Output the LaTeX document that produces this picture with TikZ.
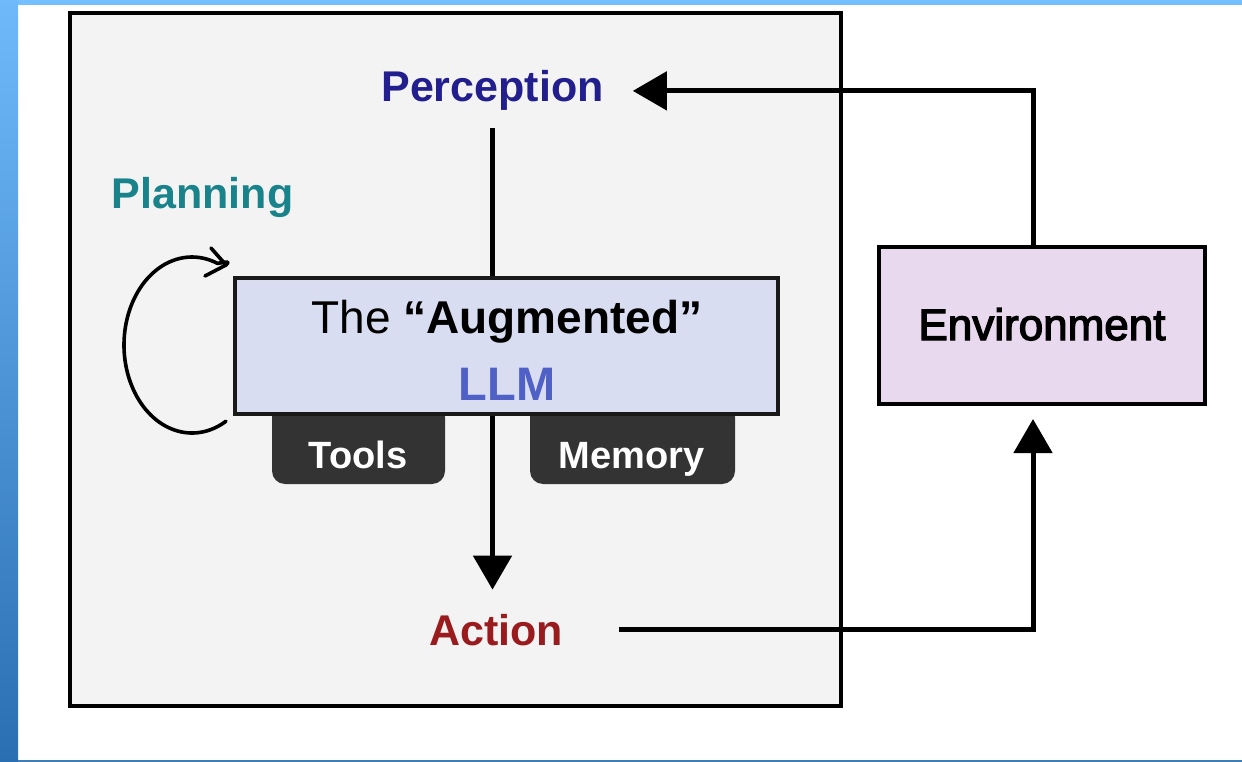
\documentclass[tikz,border=0pt]{standalone}
\usepackage{fontspec}
\setmainfont{Liberation Sans}
\newfontfamily\medfont[FakeBold=3]{Liberation Sans}
\usetikzlibrary{arrows.meta}
\definecolor{percC}{HTML}{221E8E}
\definecolor{planC}{HTML}{18838A}
\definecolor{llmC}{HTML}{4F60C6}
\definecolor{actC}{HTML}{991B1E}
\definecolor{llmFill}{HTML}{D9DDF1}
\definecolor{envFill}{HTML}{E8D9EE}
\definecolor{outerFill}{HTML}{F3F3F3}
\definecolor{toolC}{HTML}{333333}
\definecolor{stripTop}{HTML}{6FB9FB}
\definecolor{stripBot}{HTML}{2A6FB1}
\definecolor{barC}{HTML}{74BFFF}
\tikzset{
  lbl/.style={anchor=base, inner sep=0pt, font=\bfseries\fontsize{43}{50}\selectfont},
  boxstyle/.style={draw=black, line width=4pt, inner sep=0pt},
  tabstyle/.style={fill=toolC, rounded corners=13pt, inner sep=0pt},
  tabtext/.style={anchor=base, inner sep=0pt, text=white, font=\bfseries\fontsize{38}{44}\selectfont},
  conn/.style={line width=5pt, draw=black},
  arrowline/.style={conn, -{Triangle[length=34pt,width=38pt]}},
  loopline/.style={line width=3.6pt, draw=black, line cap=round, line join=round},
}
\begin{document}
\begin{tikzpicture}[x=1pt,y=-1pt]
\useasboundingbox (0,0) rectangle (1242,762);
\fill[white] (0,0) rectangle (1242,762);
\fill[barC] (0,0) rectangle (1242,5);
\shade[top color=stripTop, bottom color=stripBot] (0,0) rectangle (18,762);
\fill[stripBot!90!white] (18,759.5) rectangle (1242,762);

% outer agent box
\node[boxstyle, fill=outerFill, minimum width=771pt, minimum height=693pt] (outer) at (455.5,359.5) {};

% tools and memory tabs (behind LLM box)
\node[tabstyle, minimum width=173pt, minimum height=80pt] (tools) at (358.5,444) {};
\node[tabstyle, minimum width=205pt, minimum height=80pt] (memory) at (632.5,444) {};
\node[tabtext] (toolst) at (358,468) {Tools};
\node[tabtext] (memoryt) at (631.5,468) {Memory};

% LLM box
\node[boxstyle, draw=black!90, fill=llmFill, minimum width=543pt, minimum height=136pt] (llm) at (506.5,346) {};
\node[anchor=base, inner sep=0pt, font=\fontsize{46}{52}\selectfont] (aug) at (507,333) {The \textbf{“Augmented”}};
\node[lbl, text=llmC, font=\bfseries\fontsize{47}{52}\selectfont] (llmt) at (507,400) {LLM};

% environment
\node[boxstyle, fill=envFill, minimum width=326pt, minimum height=157pt] (env) at (1042,325.5) {};
\node[anchor=base, inner sep=0pt, font=\medfont\fontsize{44}{50}\selectfont] (envt) at (1042,340) {Environment};

% labels
\node[lbl, text=percC] (perc) at (492.5,102) {Perception};
\node[lbl, text=planC] (plan) at (202.5,208) {Planning};
\node[lbl, text=actC] (act) at (496,645) {Action};

% connectors
\coordinate (perctop) at ([yshift=-17pt]perc.south);
\draw[conn] (perctop) -- (perctop |- llm.north);
\coordinate (acttip) at ([yshift=24pt]act.north);
\draw[arrowline] (llm.south -| perctop) -- (acttip -| perctop);
\draw[arrowline] ([xshift=56pt]act.east) -| ([xshift=-9pt,yshift=-13pt]env.south);
\draw[arrowline] ([xshift=-9pt]env.north) |- ([xshift=29pt]perc.east);

% planning loop
\coordinate (loopc) at (192,345);
\coordinate (looptip) at (226,265);
\draw[loopline] ([shift={(60:68 and 88)}]loopc) arc[start angle=60, end angle=292, x radius=68, y radius=88]
  .. controls +(12,-2) .. (looptip);
\draw[loopline] (211,248) -- (looptip) -- (205,276);
\end{tikzpicture}
\end{document}
